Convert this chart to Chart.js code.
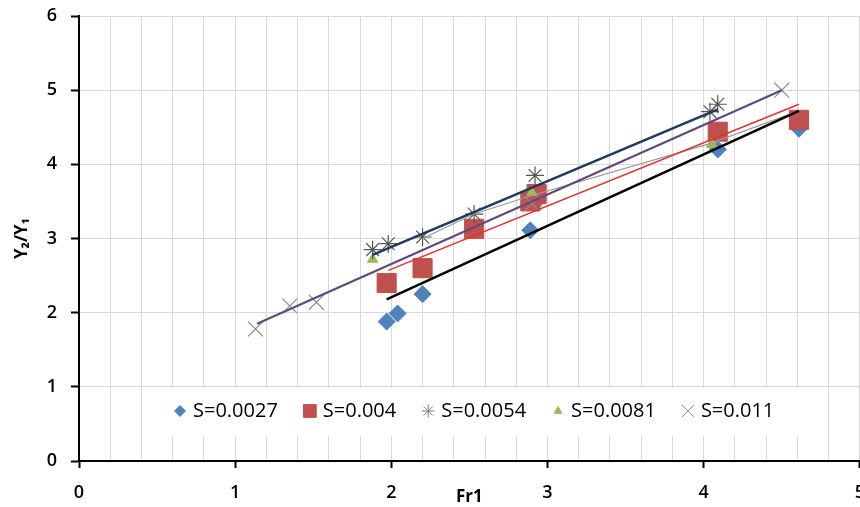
<!DOCTYPE html>
<html>
<head>
<meta charset="utf-8">
<script src="https://cdn.jsdelivr.net/npm/chart.js@4.4.1/dist/chart.umd.min.js"></script>
<style>
  html, body { margin: 0; padding: 0; background: #fff; overflow: hidden; }
  #wrap { width: 879px; height: 507px; }
</style>
</head>
<body>
<div id="wrap"><canvas id="myfr" width="879" height="507"></canvas></div>
<script>
let s0027X = [1.97, 2.04, 2.20, 2.89, 2.93, 4.09, 4.61];
let s0027Y = [1.88, 1.99, 2.25, 3.11, 3.50, 4.20, 4.48];

let s004X = [1.97, 2.20, 2.53, 2.89, 2.93, 4.09, 4.61];
let s004Y = [2.40, 2.60, 3.13, 3.50, 3.60, 4.44, 4.60];

let s0054X = [1.88, 1.98, 2.20, 2.53, 2.92, 4.04, 4.09];
let s0054Y = [2.85, 2.93, 3.02, 3.33, 3.85, 4.71, 4.81];

let s0081X = [1.88, 2.90, 4.05];
let s0081Y = [2.72, 3.62, 4.27];

let s011X = [1.13, 1.35, 1.52, 2.90, 4.50];
let s011Y = [1.78, 2.09, 2.14, 3.47, 5.00];

// thin grey connecting line
let linkX = [2.20, 2.53, 2.90, 4.04, 4.61];
let linkY = [3.00, 3.33, 3.58, 4.28, 4.72];

// trend lines (end points)
let t0027X = [1.97, 4.61];
let t0027Y = [2.18, 4.72];
let t004X = [1.98, 4.61];
let t004Y = [2.57, 4.81];
let t0054X = [1.88, 4.09];
let t0054Y = [2.78, 4.74];
let t011X = [1.14, 4.50];
let t011Y = [1.85, 5.00];

let seriesNames = ['S=0.0027', 'S=0.004', 'S=0.0054', 'S=0.0081', 'S=0.011'];

function pts(xs, ys) {
    let out = [];
    for (let i in xs) {
        out.push({ x: xs[i], y: ys[i] });
    }
    return out;
}

function isWhole(v) {
    return Math.abs(v - Math.round(v)) < 1e-6;
}

function trend(xs, ys, color, width) {
    return {
        data: pts(xs, ys),
        showLine: true,
        borderColor: color,
        borderWidth: width,
        pointRadius: 0,
        order: 0
    };
}

// legend marker styles, same order as seriesNames
let legendStyle = [
    { style: 'rectRot', r: 5.5, fill: '#4F81BD', stroke: '#4F81BD', w: 1 },
    { style: 'rect', r: 9, fill: '#C0504D', stroke: '#C0504D', w: 1 },
    { style: 'star', r: 6.5, fill: 'transparent', stroke: '#7f7f7f', w: 1 },
    { style: 'triangle', r: 4.5, fill: '#9BBB59', stroke: '#9BBB59', w: 1 },
    { style: 'crossRot', r: 8.5, fill: 'transparent', stroke: '#8c8c8c', w: 1 }
];

let boxLegend = {
    id: 'boxLegend',
    beforeDatasetsDraw(chart) {
        let ctx = chart.ctx;
        ctx.save();
        ctx.fillStyle = '#ffffff';
        ctx.fillRect(152, 388, 648, 48);
        ctx.font = '20px "Open Sans"';
        ctx.textBaseline = 'middle';
        let x = 180;
        let y = 411;
        for (let i in seriesNames) {
            let st = legendStyle[i];
            ctx.fillStyle = st.fill;
            ctx.strokeStyle = st.stroke;
            ctx.lineWidth = st.w;
            Chart.helpers.drawPoint(ctx, { pointStyle: st.style, radius: st.r, borderWidth: st.w }, x, y);
            ctx.fillStyle = '#000';
            ctx.fillText(seriesNames[i], x + 13, y);
            x = x + 13 + ctx.measureText(seriesNames[i]).width + 32;
        }
        ctx.restore();
    }
};

let chartdata = {
    datasets: [
        trend(t0054X, t0054Y, '#1F3A5F', 2.5),
        trend(t011X, t011Y, '#604A7B', 2.2),
        trend(t004X, t004Y, '#E3302B', 1.5),
        trend(t0027X, t0027Y, '#000000', 2.5),
        {
            data: pts(linkX, linkY),
            showLine: true,
            borderColor: '#9a9a9a',
            borderWidth: 1.2,
            pointRadius: 0,
            order: 1
        },
        {
            label: seriesNames[4],
            data: pts(s011X, s011Y),
            pointStyle: 'crossRot',
            pointRadius: 10.5,
            borderColor: '#8c8c8c',
            borderWidth: 1.2,
            order: 2
        },
        {
            label: seriesNames[2],
            data: pts(s0054X, s0054Y),
            pointStyle: 'star',
            pointRadius: 9,
            borderColor: '#555555',
            borderWidth: 1.2,
            order: 2
        },
        {
            label: seriesNames[3],
            data: pts(s0081X, s0081Y),
            pointStyle: 'triangle',
            pointRadius: 6,
            backgroundColor: '#9BBB59',
            borderColor: '#9BBB59',
            borderWidth: 1,
            order: 3
        },
        {
            label: seriesNames[1],
            data: pts(s004X, s004Y),
            pointStyle: 'rect',
            pointRadius: 13.5,
            backgroundColor: '#C0504D',
            borderColor: '#C0504D',
            borderWidth: 1,
            order: 4
        },
        {
            label: seriesNames[0],
            data: pts(s0027X, s0027Y),
            pointStyle: 'rectRot',
            pointRadius: 8.5,
            backgroundColor: '#4F81BD',
            borderColor: '#4F81BD',
            borderWidth: 1,
            order: 5
        }
    ]
};

let ctx = document.getElementById('myfr');
let frChart = new Chart(ctx, {
    type: 'scatter',
    data: chartdata,
    plugins: [boxLegend],
    options: {
        responsive: false,
        animation: false,
        layout: { padding: { top: 16, right: 0, left: 0, bottom: 0 } },
        plugins: {
            legend: { display: false },
            tooltip: { enabled: false }
        },
        scales: {
            x: {
                type: 'linear',
                min: 0,
                max: 5,
                afterFit: function (scale) { scale.height = 46; },
                ticks: {
                    stepSize: 0.2,
                    autoSkip: false,
                    maxRotation: 0,
                    padding: 14,
                    color: '#000',
                    font: { family: '"Open Sans"', size: 18, weight: 600 },
                    callback: function (v) { return isWhole(v) ? Math.round(v) : ''; }
                },
                grid: {
                    color: '#d9d9d9',
                    lineWidth: 1,
                    tickLength: 7,
                    tickColor: function (c) { return isWhole(c.tick.value) ? '#000' : 'rgba(0,0,0,0)'; },
                    tickWidth: 2
                },
                border: { color: '#000', width: 2 },
                title: {
                    display: true,
                    text: 'Fr1',
                    color: '#000',
                    font: { family: '"Open Sans"', size: 17, weight: 'bold' },
                    padding: { top: 0, bottom: 0 }
                }
            },
            y: {
                min: 0,
                max: 6,
                afterFit: function (scale) {
                    scale.width = 79;
                    scale.paddingTop = 0;
                    scale.paddingBottom = 0;
                },
                ticks: {
                    stepSize: 1,
                    padding: 14,
                    color: '#000',
                    font: { family: '"Open Sans"', size: 18, weight: 600 }
                },
                grid: {
                    color: '#d9d9d9',
                    lineWidth: 1,
                    tickLength: 8,
                    tickColor: '#000',
                    tickWidth: 2
                },
                border: { color: '#000', width: 2 },
                title: {
                    display: true,
                    text: 'Y₂/Y₁',
                    color: '#000',
                    font: { family: '"Open Sans"', size: 17, weight: 'bold' },
                    padding: { top: 12, bottom: 0 }
                }
            }
        }
    }
});
</script>
</body>
</html>
